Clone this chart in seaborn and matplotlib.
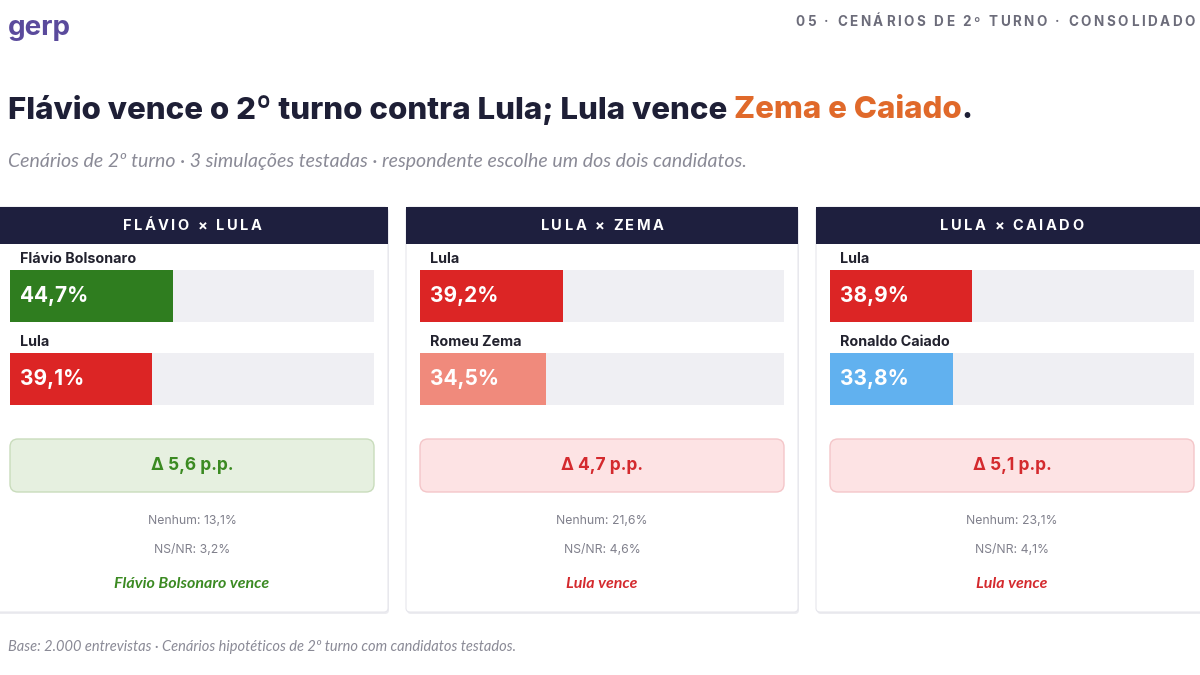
import numpy as np
import pandas as pd
import matplotlib.pyplot as plt
import seaborn as sns
from matplotlib.patches import FancyBboxPatch, Rectangle

# data
scenarios = ["FLÁVIO × LULA", "LULA × ZEMA", "LULA × CAIADO"]
cand_a = ["Flávio Bolsonaro", "Lula", "Lula"]
cand_b = ["Lula", "Romeu Zema", "Ronaldo Caiado"]
pct_a = [44.7, 39.2, 38.9]
pct_b = [39.1, 34.5, 33.8]
delta = [5.6, 4.7, 5.1]
nenhum = [13.1, 21.6, 23.1]
nsnr = [3.2, 4.6, 4.1]
winners = ["Flávio Bolsonaro", "Lula", "Lula"]
color_a = ["#2f7d1f", "#dc2525", "#dc2525"]
color_b = ["#dc2525", "#f08a7c", "#61b1ef"]

NAVY = "#1e1f3e"
TRACK = "#efeff3"
GREEN_TXT, GREEN_BG, GREEN_EDGE = "#3b8a22", "#e6f0e0", "#c9dcbc"
RED_TXT, RED_BG, RED_EDGE = "#d42a2e", "#fde3e4", "#f4c6c9"

sns.set_theme(style="white")
plt.rcParams['font.family'] = ['Inter', 'DejaVu Sans']
ITAL = ['Lato', 'DejaVu Sans']


def br(v):
    return f"{v:.1f}".replace(".", ",")


fig = plt.figure(figsize=(12, 6.75), dpi=100)
fig.patch.set_facecolor("white")
bg = fig.add_axes([0, 0, 1, 1])
bg.set_xlim(0, 1200)
bg.set_ylim(675, 0)
bg.axis("off")
renderer = fig.canvas.get_renderer()


def text_w(s, **kw):
    t = bg.text(0, 0, s + "|", **kw)
    t2 = bg.text(0, 0, "|", **kw)
    w = t.get_window_extent(renderer).width - t2.get_window_extent(renderer).width
    t.remove()
    t2.remove()
    return w


def spaced(x, y, s, track, ha="left", **kw):
    pos = [text_w(s[:i], **kw) + i * track for i in range(len(s))]
    total = text_w(s, **kw) + (len(s) - 1) * track
    start = {"left": x, "center": x - total / 2, "right": x - total}[ha]
    for ch, p in zip(s, pos):
        if ch != " ":
            bg.text(start + p, y, ch, ha="left", va="center", **kw)


# top bar
bg.text(8, 28, "gerp", fontsize=20, fontweight="bold", color="#5a4a9c", va="center")
spaced(1195, 22, "05 · CENÁRIOS DE 2º TURNO · CONSOLIDADO", 2.6, ha="right",
       fontsize=9.7, fontweight="bold", color="#6c6c7a")

# title in two colours
part1 = "Flávio vence o 2º turno contra Lula; Lula vence "
tkw = dict(fontsize=22.5, fontweight="heavy", va="center")
bg.text(8, 110, part1, color="#1e1f36", **tkw)
x2 = 8 + text_w(part1, **tkw)
bg.text(x2, 110, "Zema e Caiado", color="#e0692a", **tkw)
x3 = x2 + text_w("Zema e Caiado", **tkw)
bg.text(x3, 110, ".", color="#1e1f36", **tkw)

bg.text(8, 162, "Cenários de 2º turno · 3 simulações testadas · respondente escolhe um dos dois candidatos.",
        fontsize=14, style="italic", family=ITAL, color="#8a8a96", va="center")

card_x = [-4, 406, 816]
for i in range(3):
    cx = card_x[i]
    # card with faint shadow
    bg.add_patch(FancyBboxPatch((cx + 1, 209), 392, 405, boxstyle="round,pad=0,rounding_size=4",
                                facecolor="#ececf0", edgecolor="none"))
    bg.add_patch(FancyBboxPatch((cx, 207), 392, 405, boxstyle="round,pad=0,rounding_size=4",
                                facecolor="white", edgecolor="#e6e6ec", linewidth=0.8))
    bg.add_patch(Rectangle((cx, 207), 392, 37, facecolor=NAVY, edgecolor="none"))
    spaced(cx + 196, 226, scenarios[i], 2.5, ha="center", fontsize=10.5, fontweight="bold", color="white")

    # bars
    ax = fig.add_axes([(cx + 14) / 1200, 1 - 405 / 675, 364 / 1200, 135 / 675])
    df = pd.DataFrame({"cand": [cand_a[i], cand_b[i]], "pct": [pct_a[i], pct_b[i]]})
    sns.barplot(data=df, x=[100, 100], y="cand", color=TRACK, width=0.63,
                linewidth=0, saturation=1, ax=ax)
    sns.barplot(data=df, x="pct", y="cand", hue="cand", palette=[color_a[i], color_b[i]],
                width=0.63, dodge=False, legend=False, linewidth=0, saturation=1, ax=ax)
    ax.set_xlim(0, 100)
    ax.set_ylim(1.315, -0.315)
    ax.axis("off")
    for j, row in df.iterrows():
        ax.text(2.7, j, f"{br(row['pct'])}%", color="white", fontsize=15, fontweight="bold", va="center")
        ax.text(2.7, j - 0.45, row["cand"], color="#22222e", fontsize=10.3, fontweight="bold",
                va="center", clip_on=False)

    # delta box
    green = winners[i] == "Flávio Bolsonaro"
    fc, ec, tc = (GREEN_BG, GREEN_EDGE, GREEN_TXT) if green else (RED_BG, RED_EDGE, RED_TXT)
    bg.add_patch(FancyBboxPatch((cx + 14, 439), 364, 53, boxstyle="round,pad=0,rounding_size=8",
                                facecolor=fc, edgecolor=ec, linewidth=1))
    bg.text(cx + 196, 466, f"Δ {br(delta[i])} p.p.", ha="center", va="center",
            fontsize=12.5, fontweight="bold", color=tc)
    bg.text(cx + 196, 521, f"Nenhum: {br(nenhum[i])}%", ha="center", va="center",
            fontsize=8.8, color="#80808c")
    bg.text(cx + 196, 550, f"NS/NR: {br(nsnr[i])}%", ha="center", va="center",
            fontsize=8.8, color="#80808c")
    bg.text(cx + 196, 584, f"{winners[i]} vence", ha="center", va="center",
            fontsize=11.5, fontweight="bold", style="italic", family=ITAL, color=tc)

bg.text(8, 647, "Base: 2.000 entrevistas · Cenários hipotéticos de 2º turno com candidatos testados.",
        fontsize=10.5, style="italic", family=ITAL, color="#8a8a96", va="center")

fig.savefig("out.png", dpi=100)
